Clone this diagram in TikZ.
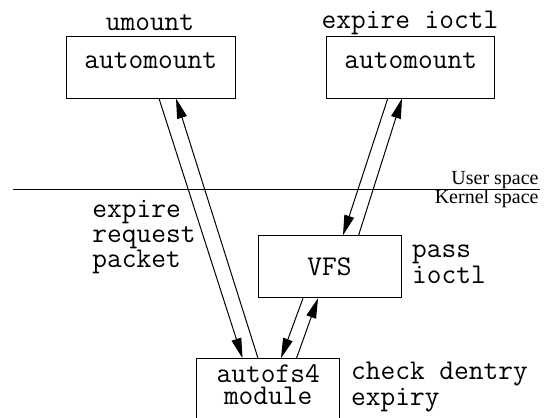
\documentclass[tikz,border=0pt]{standalone}
\usepackage{fontspec}
\setmainfont{Liberation Serif}
\usetikzlibrary{calc}
\usetikzlibrary{arrows.meta}
\tikzset{box/.style={rectangle, draw, line width=.5pt, font=\ttfamily\fontsize{14.3}{10.75}\selectfont, align=center, inner sep=0pt}}
\tikzset{lbl/.style={font=\ttfamily\fontsize{14.3}{10.75}\selectfont, inner sep=0pt}}
\tikzset{space/.style={font=\fontsize{10}{11}\selectfont, inner sep=0pt, anchor=east}}
\tikzset{flow/.style={line width=.5pt, -{Triangle[length=10pt,width=5pt]}}}

\begin{document}
\begin{tikzpicture}[x=.5pt,y=-.5pt]
  \useasboundingbox (0,0) rectangle (544,417);
  % processes
  \node[box, minimum width=84.25pt, minimum height=30.5pt, text depth=6.5pt] (am1) at (150.75,67.5) {automount};
  \node[box, minimum width=84pt, minimum height=30.5pt, text depth=6.5pt] (am2) at (410.75,67.5) {automount};
  \node[box, minimum width=71.5pt, minimum height=31pt] (vfs) at (329.5,266.7) {VFS};
  \node[box, minimum width=71.4pt, minimum height=30pt, text depth=4pt] (mod) at (268.2,388.7) {autofs4\\module};
  % labels
  \node[lbl] (umount) at (150,22.5) {umount};
  \node[lbl] (ioctl) at (410,22.5) {expire ioctl};
  \node[lbl, anchor=west, align=left] (packet) at (92,237.5) {expire\\request\\packet};
  \node[lbl, anchor=west, align=left] (pass) at (411.7,264.5) {pass\\ioctl};
  \node[lbl, anchor=west, align=left] (check) at (350.7,387) {check dentry\\expiry};
  % user/kernel boundary
  \coordinate (sepL) at (13,189.5);
  \coordinate (sepR) at (540,189.5);
  \draw[line width=.5pt] (sepL) -- (sepR);
  \node[space] (user) at (539,179.6) {User space};
  \node[space] (kernel) at (539,199) {Kernel space};
  % messages
  \draw[flow] ($(am1.south)+(8.25,0)$) -- ($(mod.north)+(-25.7,0)$);
  \draw[flow] ($(mod.north)+(-10.2,0)$) -- ($(am1.south)+(25.25,0)$);
  \draw[flow] ($(am2.south)+(-23,0)$) -- ($(vfs.north)+(13.5,0)$);
  \draw[flow] ($(vfs.north)+(29.1,0)$) -- ($(am2.south)+(-8.75,0)$);
  \draw[flow] ($(vfs.south)+(-26.5,0)$) -- ($(mod.north)+(12.8,0)$);
  \draw[flow] ($(mod.north)+(28.3,0)$) -- ($(vfs.south)+(-11.5,0)$);
\end{tikzpicture}
\end{document}
